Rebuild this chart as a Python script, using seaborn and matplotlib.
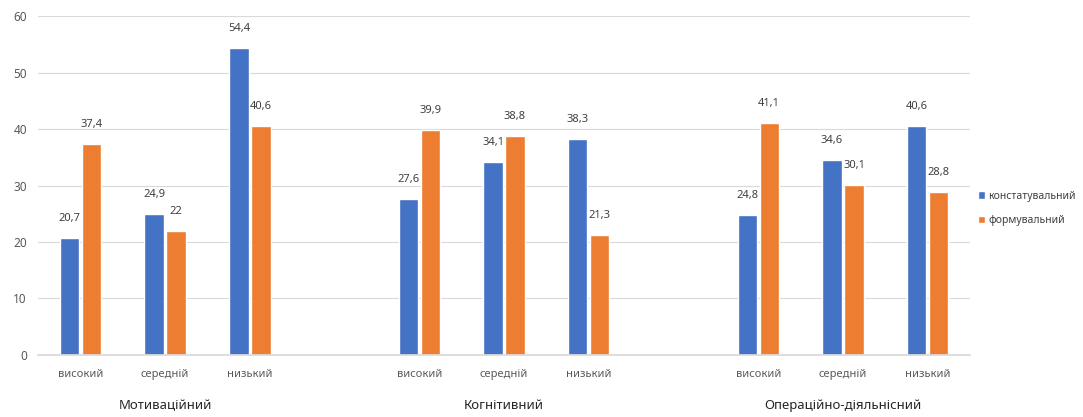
import matplotlib
matplotlib.use("Agg")
import matplotlib.pyplot as plt
import seaborn as sns
import pandas as pd

groups = ["Мотиваційний", "Когнітивний", "Операційно-діяльнісний"]
levels = ["високий", "середній", "низький"]
series = ["констатувальний", "формувальний"]
konst = [20.7, 24.9, 54.4, 27.6, 34.1, 38.3, 24.8, 34.6, 40.6]
form = [37.4, 22.0, 40.6, 39.9, 38.8, 21.3, 41.1, 30.1, 28.8]
colors = ["#4472C4", "#ED7D31"]

rows = []
order = []
tick_labels = []
k = 0
for gi, g in enumerate(groups):
    for lv in levels:
        key = f"{g}|{lv}"
        order.append(key)
        tick_labels.append(lv)
        rows.append({"cat": key, "series": series[0], "val": konst[k]})
        rows.append({"cat": key, "series": series[1], "val": form[k]})
        k += 1
    if gi < len(groups) - 1:
        order.append(f"gap{gi}")
        tick_labels.append("")
df = pd.DataFrame(rows)

sns.set_theme(style="white")
plt.rcParams['font.family'] = ['Noto Sans', 'DejaVu Sans']

fig = plt.figure(figsize=(10.83, 4.17), dpi=100)
ax = fig.add_axes([0.0351, 0.1487, 0.8606, 0.8129])

sns.barplot(data=df, x="cat", y="val", hue="series", order=order,
            hue_order=series, palette=colors, width=0.52, gap=0.12,
            saturation=1, ax=ax, legend=True)

def fmt(v):
    return str(int(v)) if float(v).is_integer() else f"{v}".replace(".", ",")

for cont in ax.containers:
    ax.bar_label(cont, labels=[fmt(b.get_height()) for b in cont],
                 padding=10, fontsize=8, color="#404040")

ax.set_ylim(0, 60)
ax.set_yticks(range(0, 61, 10))
ax.set_xlim(-0.5, len(order) - 0.5)
ax.set_xticks(range(len(order)))
ax.set_xticklabels(tick_labels, fontsize=8, color="#595959")
ax.tick_params(axis="y", labelsize=8.5, labelcolor="#595959", length=0, pad=8)
ax.tick_params(axis="x", length=0, pad=10)
ax.yaxis.grid(True, color="#d9d9d9", linewidth=0.8)
ax.set_axisbelow(True)
for s in ["top", "right", "left"]:
    ax.spines[s].set_visible(False)
ax.spines["bottom"].set_color("#d9d9d9")
ax.set_xlabel("")
ax.set_ylabel("")

# group labels
for gi, g in enumerate(groups):
    xc = gi * 4 + 1
    ax.text(xc, -0.15, g, transform=ax.get_xaxis_transform(),
            ha="center", va="center", fontsize=9.5, color="#262626")

handles, labels = ax.get_legend_handles_labels()
ax.get_legend().remove()
fig.legend(handles, labels, loc="center left", bbox_to_anchor=(0.903, 0.5),
           frameon=False, fontsize=7.5, labelcolor="#404040",
           handlelength=0.7, handleheight=0.7, handletextpad=0.3,
           labelspacing=1.3, borderaxespad=0, borderpad=0)

fig.savefig("out.png", dpi=100)
